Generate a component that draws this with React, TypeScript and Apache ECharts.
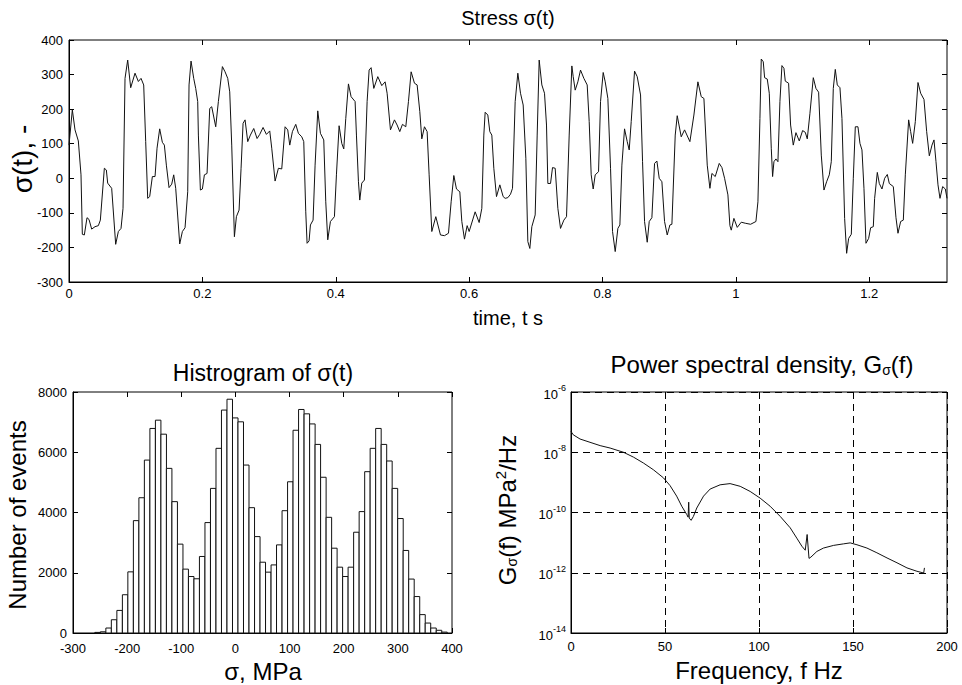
import React, { useEffect, useRef } from 'react';
import * as echarts from 'echarts';

// ---- Stress time history (time in s, stress in MPa) ----
const timeS = [
  0, 0.005, 0.009, 0.014, 0.018, 0.020, 0.023, 0.027, 0.030, 0.034, 0.039, 0.044, 0.047, 0.053, 0.056, 0.058,
  0.064, 0.070, 0.074, 0.078, 0.081, 0.084, 0.088, 0.0925, 0.099, 0.104, 0.108, 0.112, 0.115, 0.118, 0.121, 0.125,
  0.129, 0.132, 0.136, 0.140, 0.143, 0.146, 0.150, 0.154, 0.157, 0.160, 0.166, 0.170, 0.174, 0.178, 0.180, 0.183,
  0.187, 0.190, 0.193, 0.194, 0.197, 0.200, 0.203, 0.207, 0.211, 0.214, 0.220, 0.224, 0.230, 0.234, 0.238, 0.241,
  0.244, 0.248, 0.251, 0.255, 0.258, 0.261, 0.264, 0.268, 0.272, 0.277, 0.282, 0.286, 0.291, 0.296, 0.301, 0.304,
  0.309, 0.314, 0.319, 0.324, 0.328, 0.331, 0.335, 0.340, 0.344, 0.349, 0.352, 0.355, 0.357, 0.360, 0.362, 0.366,
  0.369, 0.373, 0.377, 0.382, 0.385, 0.388, 0.392, 0.398, 0.401, 0.405, 0.409, 0.412, 0.415, 0.419, 0.423, 0.429,
  0.431, 0.434, 0.436, 0.439, 0.443, 0.447, 0.450, 0.453, 0.457, 0.463, 0.469, 0.474, 0.477, 0.482, 0.488, 0.492,
  0.496, 0.500, 0.505, 0.509, 0.513, 0.518, 0.522, 0.526, 0.529, 0.533, 0.537, 0.540, 0.544, 0.550, 0.557, 0.563,
  0.569, 0.573, 0.577, 0.581, 0.586, 0.589, 0.593, 0.597, 0.600, 0.609, 0.615, 0.619, 0.622, 0.624, 0.628, 0.631,
  0.634, 0.637, 0.641, 0.646, 0.651, 0.654, 0.658, 0.662, 0.665, 0.669, 0.673, 0.677, 0.681, 0.685, 0.688, 0.691,
  0.694, 0.699, 0.702, 0.705, 0.709, 0.713, 0.716, 0.718, 0.722, 0.725, 0.729, 0.733, 0.737, 0.742, 0.746, 0.750,
  0.754, 0.756, 0.759, 0.763, 0.767, 0.772, 0.777, 0.780, 0.783, 0.786, 0.789, 0.794, 0.797, 0.801, 0.804, 0.808,
  0.812, 0.815, 0.819, 0.823, 0.826, 0.829, 0.833, 0.837, 0.840, 0.843, 0.848, 0.852, 0.857, 0.860, 0.863, 0.867,
  0.870, 0.874, 0.878, 0.8815, 0.885, 0.889, 0.893, 0.897, 0.901, 0.904, 0.909, 0.912, 0.918, 0.923, 0.931, 0.937,
  0.943, 0.948, 0.952, 0.957, 0.961, 0.964, 0.969, 0.975, 0.979, 0.983, 0.988, 0.991, 0.993, 0.997, 1.002, 1.008,
  1.014, 1.022, 1.030, 1.033, 1.036, 1.038, 1.041, 1.043, 1.047, 1.050, 1.053, 1.055, 1.057, 1.060, 1.063, 1.066,
  1.069, 1.072, 1.074, 1.079, 1.082, 1.086, 1.090, 1.095, 1.100, 1.104, 1.107, 1.111, 1.116, 1.120, 1.124, 1.128,
  1.132, 1.136, 1.140, 1.143, 1.146, 1.149, 1.152, 1.156, 1.159, 1.163, 1.166, 1.169, 1.173, 1.176, 1.179, 1.183,
  1.186, 1.189, 1.192, 1.195, 1.199, 1.202, 1.206, 1.208, 1.212, 1.215, 1.219, 1.223, 1.227, 1.230, 1.236, 1.240,
  1.243, 1.247, 1.251, 1.254, 1.259, 1.262, 1.265, 1.269, 1.273, 1.277, 1.282, 1.286, 1.290, 1.294, 1.297, 1.300,
  1.303, 1.306, 1.310, 1.314, 1.3165,
];
const stressMPa = [
  96, 198, 140, 108, 10, -162, -164, -114, -119, -147, -140, -137, -121, 29, 24, -14,
  -29, -191, -154, -145, -87, 289, 342, 262, 304, 280, 289, 270, 106, -58, -53, 5,
  5, 87, 143, 104, 96, 38, -27, -17, 10, -29, -190, -154, -143, -39, 270, 339,
  289, 260, 222, 125, -34, -31, 10, 14, 202, 207, 149, 222, 323, 308, 289, 250,
  96, -169, -111, -92, 29, 159, 169, 106, 125, 144, 115, 127, 147, 127, 137, 87,
  -8, 29, 27, 149, 140, 96, 135, 156, 130, 120, 106, -97, -188, -181, -135, -121,
  38, 195, 130, 111, -68, -178, -125, -111, 10, 152, 101, 85, 173, 273, 236, 222,
  125, -10, -63, -14, -5, 222, 313, 320, 260, 294, 268, 279, 246, 140, 169, 154,
  135, 156, 149, 222, 308, 275, 270, 193, 114, 149, 135, 10, -154, -111, -164, -166,
  -159, -68, 8, -31, -39, -125, -176, -137, -154, -97, -128, -87, 125, 191, 183, 135,
  125, 29, -53, -19, -53, -58, -56, -46, -29, 222, 304, 246, 212, 58, -183, -203,
  -140, -106, 125, 342, 270, 246, 154, -15, -15, 31, 29, -87, -145, -121, -111, 125,
  325, 294, 255, 279, 313, 289, 270, 164, 10, -31, 10, 19, 222, 306, 279, 231,
  29, -154, -212, -145, -135, 38, 143, 106, 82, 164, 310, 294, 241, 48, -125, -185,
  -125, -114, 43, 50, 0, -10, -125, -164, -135, -133, 125, 181, 120, 140, 106, 183,
  279, 236, 231, 38, -29, 14, 5, 43, 31, 0, -48, -137, -150, -116, -142, -127,
  -130, -133, -125, -68, 173, 345, 337, 291, 287, 246, 87, 5, 48, 56, 48, 222,
  326, 318, 281, 275, 154, 96, 132, 108, 138, 133, 114, 188, 291, 260, 249, 67,
  -34, -10, 10, 48, 260, 315, 270, 262, 173, -116, -217, -174, -162, 0, 149, 149,
  101, 82, -29, -188, -174, -143, -140, -58, 17, -15, -31, 0, 11, -15, -24, -114,
  -159, -125, -121, 10, 169, 135, 101, 164, 277, 246, 228, 135, 65, 96, 111, 48,
  -19, -58, -24, -31, -58,
];

// ---- Histogram of stress (bin centres in MPa, counts) ----
const binCenters = [
  -254.6, -244.4, -234.2, -224.1, -213.9, -203.7, -193.6, -183.4, -173.2, -163.1, -152.9, -142.7, -132.5, -122.4,
  -112.2, -102.0, -91.9, -81.7, -71.5, -61.4, -51.2, -41.0, -30.8, -20.7, -10.5, -0.3, 9.8, 20.0, 30.2, 40.4, 50.5,
  60.7, 70.9, 81.0, 91.2, 101.4, 111.5, 121.7, 131.9, 142.1, 152.2, 162.4, 172.6, 182.7, 192.9, 203.1, 213.2, 223.4,
  233.6, 243.8, 253.9, 264.1, 274.3, 284.4, 294.6, 304.8, 314.9, 325.1, 335.3, 345.5, 355.6, 365.8, 376.0, 386.1,
];
const binCounts = [
  20, 40, 165, 440, 750, 1270, 2030, 3730, 4490, 5740, 6790, 7065, 6600, 5465,
  4360, 2950, 2120, 1875, 1800, 2540, 3665, 4800, 6130, 7400, 7760, 7140, 7010, 5575, 4160, 3200, 2350,
  2020, 2260, 2925, 4060, 5020, 6730, 7420, 7275, 6940, 6260, 5170, 3840, 2815, 2185, 1875, 2185, 3345,
  4030, 5355, 6130, 6790, 6260, 5710, 4800, 3800, 2740, 1790, 1210, 610, 330, 165, 90, 30,
];
const BIN_WIDTH = 10.17;

// ---- Power spectral density ----
const freqHz = [
  0, 1.2, 4.8, 10.1, 15.5, 20.8, 27.9, 33.2, 38.5, 43.8, 49.2, 52.7, 56.2, 58.9, 61.6, 62.3, 62.6, 62.9,
  63.9, 65.1, 66.9, 70.5, 74.0, 79.3, 84.6, 90.0, 95.3, 100.6, 105.9, 111.3, 116.6, 120.1, 122.8, 124.6,
  125.6, 126.6, 127.6, 130.8, 134.3, 139.7, 145.0, 148.5, 152.1, 157.4, 162.7, 168.1, 173.4, 178.7, 184.0,
  187.6, 188.0,
];
const psdValues = [
  4.9e-8, 3.8e-8, 2.75e-8, 2.14e-8, 1.66e-8, 1.38e-8, 1.0e-8, 6.9e-9, 4.4e-9, 2.63e-9, 1.41e-9, 7.8e-10, 3.5e-10,
  1.62e-10, 8.5e-11, 7.0e-11, 2.2e-10, 6.5e-11,
  5.5e-11, 7.4e-11, 1.41e-10, 3.5e-10, 6.0e-10, 8.3e-10, 9.1e-10, 7.4e-10, 5.0e-10, 3.0e-10, 1.62e-10, 7.4e-11,
  3.1e-11, 1.41e-11, 7.6e-12, 5.6e-12,
  1.86e-11, 3.0e-12, 3.3e-12, 5.1e-12, 6.6e-12, 8.1e-12, 9.1e-12, 9.8e-12, 8.5e-12, 6.6e-12, 4.6e-12, 3.1e-12,
  2.14e-12, 1.45e-12, 1.12e-12, 9.8e-13, 1.45e-12,
];
const psdTickValues = [1e-14, 1e-12, 1e-10, 1e-8, 1e-6];

const FONT = '"Liberation Sans", Arial, Helvetica, sans-serif';

export default function App() {
  const ref = useRef<HTMLDivElement>(null);

  useEffect(() => {
    if (!ref.current) return;
    const chart = echarts.init(ref.current, null, { renderer: 'svg' });

    const black = '#000';
    const tick = () => ({ show: true, inside: true, length: 5, lineStyle: { color: black, width: 1 } });
    const label = (show: boolean, margin: number, extra: any = {}) => ({
      show, margin, color: black, fontSize: 13, fontFamily: FONT,
      formatter: (v: number) => String(v),
      ...extra,
    });
    const line = (show: boolean) => ({ show, onZero: false, lineStyle: { color: black, width: 1 } });
    const dashed = { show: true, lineStyle: { color: black, width: 1, type: [7, 5] } };

    const gridBase = { show: true, borderColor: black, borderWidth: 1, backgroundColor: '#fff', containLabel: false };

    const valueX = (gridIndex: number, min: number, max: number, interval: number, primary: boolean, extra: any = {}) => ({
      type: 'value', gridIndex, min, max, interval,
      position: primary ? 'bottom' : 'top',
      axisLine: line(primary), axisTick: tick(),
      axisLabel: label(primary, extra.margin ?? 6, extra.showMaxLabel === false ? { showMaxLabel: false } : {}),
      splitLine: extra.splitLine || { show: false },
    });
    const valueY = (gridIndex: number, min: number, max: number, interval: number, primary: boolean) => ({
      type: 'value', gridIndex, min, max, interval,
      position: primary ? 'left' : 'right',
      axisLine: line(primary), axisTick: tick(),
      axisLabel: label(primary, 6),
      splitLine: { show: false },
    });
    const logY = (primary: boolean) => ({
      type: 'log', logBase: 10, gridIndex: 2, min: 1e-14, max: 1e-6,
      position: primary ? 'left' : 'right',
      axisLine: line(primary),
      axisTick: { ...tick(), customValues: psdTickValues },
      axisLabel: {
        show: primary, margin: 5, color: black, fontFamily: FONT,
        customValues: psdTickValues,
        formatter: (v: number) => `{b|10}{s|${Math.round(Math.log10(v))}}`,
        rich: {
          b: { fontSize: 13, fontFamily: FONT, color: black, verticalAlign: 'bottom' },
          s: { fontSize: 9, fontFamily: FONT, color: black, verticalAlign: 'bottom', padding: [0, 0, 8, 0] },
        },
      },
      splitLine: primary ? dashed : { show: false },
      minorTick: { show: false },
    });

    const option: any = {
      animation: false,
      backgroundColor: '#fff',
      grid: [
        { ...gridBase, left: 69, top: 40, width: 878, height: 242 },
        { ...gridBase, left: 73, top: 392, width: 379, height: 241 },
        { ...gridBase, left: 571, top: 392, width: 376, height: 241 },
      ],
      xAxis: [
        valueX(0, 0, 1.3165, 0.2, true, { showMaxLabel: false, margin: 5 }),
        valueX(0, 0, 1.3165, 0.2, false),
        valueX(1, -300, 400, 100, true, { margin: 9 }),
        valueX(1, -300, 400, 100, false),
        valueX(2, 0, 200, 50, true, { splitLine: dashed, margin: 7 }),
        valueX(2, 0, 200, 50, false),
      ],
      yAxis: [
        valueY(0, -300, 400, 100, true),
        valueY(0, -300, 400, 100, false),
        valueY(1, 0, 8000, 2000, true),
        valueY(1, 0, 8000, 2000, false),
        logY(true),
        logY(false),
      ],
      series: [
        {
          type: 'line', xAxisIndex: 0, yAxisIndex: 0,
          data: timeS.map((t, i) => [t, stressMPa[i]]),
          showSymbol: false, symbol: 'none',
          lineStyle: { color: '#111', width: 1 },
          silent: true,
        },
        {
          type: 'custom', xAxisIndex: 2, yAxisIndex: 2,
          data: binCenters.map((c, i) => [c, binCounts[i]]),
          encode: { x: 0, y: 1 },
          renderItem: (_params: any, api: any) => {
            const c = api.value(0);
            const n = api.value(1);
            const p0 = api.coord([c - BIN_WIDTH / 2, n]);
            const p1 = api.coord([c + BIN_WIDTH / 2, 0]);
            return {
              type: 'rect',
              shape: { x: p0[0], y: p0[1], width: p1[0] - p0[0], height: p1[1] - p0[1] },
              style: { fill: '#fff', stroke: '#111', lineWidth: 1 },
            };
          },
          silent: true,
        },
        {
          type: 'line', xAxisIndex: 4, yAxisIndex: 4,
          data: freqHz.map((f, i) => [f, psdValues[i]]),
          showSymbol: false, symbol: 'none',
          lineStyle: { color: '#111', width: 1 },
          silent: true,
        },
      ],
      graphic: [
        txt(508, 18, 'Stress σ(t)', 20),
        txt(508, 318, 'time, t s', 20),
        txt(22, 159, 'σ(t), -', 28, Math.PI / 2),
        txt(263, 373, 'Histrogram of σ(t)', 23),
        txt(263, 671, 'σ, MPa', 24),
        txt(17, 515, 'Number of events', 24, Math.PI / 2),
        {
          type: 'text', x: 762, y: 364,
          style: {
            text: 'Power spectral density, G{sub|σ}(f)',
            font: `24px ${FONT}`, fontSize: 24, fontFamily: FONT, fill: black,
            align: 'center', verticalAlign: 'middle', textAlign: 'center', textVerticalAlign: 'middle',
            rich: {
              sub: { fontSize: 14, fontFamily: FONT, fill: black, verticalAlign: 'top', padding: [12, 0, 0, 0] },
            },
          },
        },
        txt(759, 670, 'Frequency, f Hz', 24),
        {
          type: 'text', x: 507, y: 510, rotation: Math.PI / 2,
          style: {
            text: 'G{sub|σ}(f) MPa{sup|2}/Hz',
            font: `24px ${FONT}`, fontSize: 24, fontFamily: FONT, fill: black,
            align: 'center', verticalAlign: 'middle', textAlign: 'center', textVerticalAlign: 'middle',
            rich: {
              sub: { fontSize: 14, fontFamily: FONT, fill: black, verticalAlign: 'top', padding: [12, 0, 0, 0] },
              sup: { fontSize: 15, fontFamily: FONT, fill: black, verticalAlign: 'bottom', padding: [0, 0, 13, 0] },
            },
          },
        },
      ],
    };

    chart.setOption(option);
    return () => chart.dispose();
  }, []);

  return (
    <div
      ref={ref}
      style={{ position: 'fixed', left: 0, top: 0, width: 962, height: 685, background: '#fff' }}
    />
  );
}

function txt(x: number, y: number, text: string, size: number, rotation = 0) {
  return {
    type: 'text', x, y, rotation,
    style: {
      text,
      font: `${size}px ${FONT}`, fontSize: size, fontFamily: FONT, fill: '#000',
      align: 'center', verticalAlign: 'middle', textAlign: 'center', textVerticalAlign: 'middle',
    },
  };
}
